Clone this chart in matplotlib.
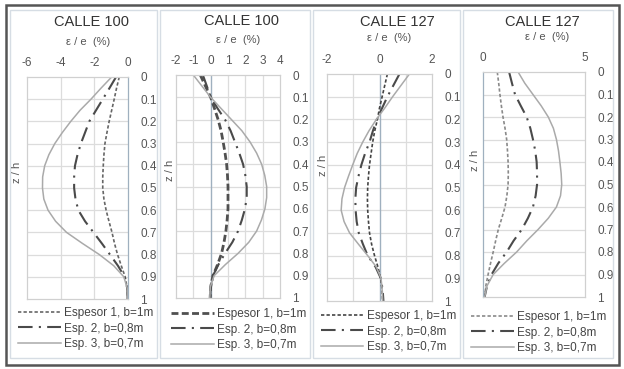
import matplotlib
matplotlib.use("Agg")
import matplotlib.pyplot as plt
from matplotlib.patches import Rectangle

plt.rcParams['font.family'] = ['Liberation Sans', 'DejaVu Sans']

W, H = 624, 369

z = [0, 0.05, 0.1, 0.15, 0.2, 0.25, 0.3, 0.35, 0.4, 0.45, 0.5,
     0.55, 0.6, 0.65, 0.7, 0.75, 0.8, 0.85, 0.9, 0.95, 1]

titles = ["CALLE 100", "CALLE 100", "CALLE 127", "CALLE 127"]
labels = ["Espesor 1, b=1m", "Esp. 2, b=0,8m", "Esp. 3, b=0,7m"]

# panel 1 - CALLE 100
c100a_e1 = [-0.52, -0.68, -0.82, -0.97, -1.12, -1.25, -1.37, -1.43, -1.47, -1.5, -1.5,
            -1.43, -1.3, -1.13, -0.95, -0.8, -0.62, -0.4, -0.17, -0.05, -0.02]
c100a_e2 = [-0.71, -1.1, -1.5, -1.9, -2.3, -2.55, -2.8, -3.0, -3.15, -3.2, -3.2,
            -3.12, -2.95, -2.55, -2.05, -1.55, -1.07, -0.6, -0.2, -0.05, -0.02]
c100a_e3 = [-0.97, -1.6, -2.2, -2.85, -3.4, -3.9, -4.35, -4.7, -4.95, -5.07, -5.08,
            -5.0, -4.75, -4.3, -3.65, -2.7, -1.7, -0.85, -0.25, -0.05, -0.02]

# panel 2 - CALLE 100
c100b_e1 = [-0.6, -0.3, 0.0, 0.22, 0.43, 0.6, 0.72, 0.83, 0.92, 0.97, 1.0,
            1.0, 1.0, 0.95, 0.88, 0.77, 0.63, 0.4, 0.13, 0.0, -0.03]
c100b_e2 = [-0.45, -0.22, 0.0, 0.4, 0.83, 1.15, 1.4, 1.65, 1.87, 2.0, 2.08,
            2.08, 1.98, 1.8, 1.58, 1.25, 0.83, 0.45, 0.13, 0.0, -0.03]
c100b_e3 = [-1.0, -0.5, 0.0, 0.6, 1.2, 1.8, 2.27, 2.65, 2.94, 3.12, 3.23,
            3.23, 3.13, 2.93, 2.65, 2.2, 1.58, 0.85, 0.2, -0.02, -0.05]

# panel 3 - CALLE 127
c127a_e1 = [0.3, 0.2, 0.1, 0.0, -0.08, -0.18, -0.26, -0.32, -0.38, -0.42, -0.45,
            -0.46, -0.45, -0.42, -0.38, -0.3, -0.19, -0.06, 0.04, 0.1, 0.12]
c127a_e2 = [0.76, 0.53, 0.3, 0.1, -0.1, -0.25, -0.38, -0.55, -0.69, -0.8, -0.89,
            -0.92, -0.91, -0.87, -0.79, -0.63, -0.45, -0.15, 0.05, 0.12, 0.15]
c127a_e3 = [1.14, 0.82, 0.5, 0.2, -0.12, -0.4, -0.64, -0.85, -1.02, -1.18, -1.33,
            -1.43, -1.46, -1.35, -1.14, -0.8, -0.45, -0.12, 0.06, 0.1, 0.12]

# panel 4 - CALLE 127
c127b_e1 = [0.7, 0.77, 0.83, 0.9, 0.98, 1.08, 1.16, 1.2, 1.23, 1.24, 1.23,
            1.17, 1.08, 0.92, 0.75, 0.62, 0.5, 0.37, 0.25, 0.14, 0.08]
c127b_e2 = [1.28, 1.42, 1.57, 1.85, 2.14, 2.32, 2.45, 2.56, 2.63, 2.65, 2.65,
            2.58, 2.45, 2.2, 1.9, 1.5, 1.16, 0.75, 0.42, 0.2, 0.08]
c127b_e3 = [1.72, 2.05, 2.45, 2.85, 3.2, 3.45, 3.6, 3.7, 3.77, 3.83, 3.86,
            3.8, 3.6, 3.2, 2.7, 2.15, 1.65, 1.05, 0.5, 0.2, 0.08]

series = [(c100a_e1, c100a_e2, c100a_e3), (c100b_e1, c100b_e2, c100b_e3),
          (c127a_e1, c127a_e2, c127a_e3), (c127b_e1, c127b_e2, c127b_e3)]
xlims = [(-6, 0), (-2, 4), (-2, 2), (0, 5)]
xticks = [[-6, -4, -2, 0], [-2, -1, 0, 1, 2, 3, 4], [-2, 0, 2], [0, 5]]
xgrid = [[-4, -2], [-1, 1, 2, 3], [-1, 1], []]

# pixel layout: plot boxes (left, top, right, bottom)
boxes = [(27, 77, 128, 299), (176, 75, 280, 298), (327, 74, 432, 301), (483, 72, 585, 297)]
title_pos = [(91, 22), (241, 21), (397, 22), (542, 22)]
xlab_pos = [(88, 42), (238, 40), (389, 38), (547, 37)]
ylab_pos = [(17, 172), (170, 170), (323, 165), (475, 160)]
leg_pos = [(18, 307), (171, 308), (321, 310), (471, 311)]
panel_rects = [(10, 10, 157, 358), (160, 10, 310, 358), (313, 10, 460, 358), (463, 10, 613, 358)]

e1_styles = [dict(color='#666666', lw=1.2, dashes=(2, 1.3)),
             dict(color='#505050', lw=2.0, dashes=(2.5, 1.2)),
             dict(color='#444444', lw=1.2, dashes=(2, 1.3)),
             dict(color='#8a8a8a', lw=1.2, dashes=(2, 1.3))]
e2_style = dict(color='#4a4a4a', lw=1.5, dashes=(7, 3, 1, 3))
e3_style = dict(color='#aaaaaa', lw=1.1)

fig = plt.figure(figsize=(W / 100, H / 100), dpi=100)


def fx(px):
    return px / W


def fy(py):
    return 1 - py / H


# outer frame and panel frames
fig.add_artist(Rectangle((fx(6), fy(365)), fx(613), 360 / H, transform=fig.transFigure,
                         fill=False, ec='#555555', lw=1.8))
for (l, t, r, b) in panel_rects:
    fig.add_artist(Rectangle((fx(l), fy(b)), (r - l) / W, (b - t) / H, transform=fig.transFigure,
                             fill=False, ec='#d6dde4', lw=1.0))

for i in range(4):
    l, t, r, b = boxes[i]
    ax = fig.add_axes([fx(l), fy(b), (r - l) / W, (b - t) / H])
    e1, e2, e3 = series[i]

    for g in [0.1 * k for k in range(1, 10)]:
        ax.axhline(g, color='#dcdcdc', lw=0.9, zorder=0)
    for g in xgrid[i]:
        ax.axvline(g, color='#dcdcdc', lw=0.9, zorder=0)
    if xlims[i][0] < 0 < xlims[i][1]:
        ax.axvline(0, color='#9fb0bf', lw=1.0, zorder=1)

    h1, = ax.plot(e1, z, label=labels[0], **e1_styles[i])
    h2, = ax.plot(e2, z, label=labels[1], **e2_style)
    h3, = ax.plot(e3, z, label=labels[2], **e3_style)

    ax.set_xlim(*xlims[i])
    ax.set_ylim(1, 0)
    ax.set_xticks(xticks[i])
    ax.set_xticklabels([str(v) for v in xticks[i]])
    ax.set_yticks([0.1 * k for k in range(11)])
    ax.set_yticklabels(['0'] + ['0.%d' % k for k in range(1, 10)] + ['1'])
    ax.xaxis.tick_top()
    ax.yaxis.tick_right()
    ax.tick_params(axis='x', length=0, pad=6, labelsize=8.5, labelcolor='#555555')
    ax.tick_params(axis='y', length=0, pad=9, labelsize=8.5, labelcolor='#555555')
    for s in ax.spines.values():
        s.set_color('#d0d0d0')
        s.set_linewidth(0.9)
    if i == 0:
        ax.spines['right'].set_color('#9fb0bf')
    if i == 3:
        ax.spines['left'].set_color('#9fb0bf')

    fig.text(fx(title_pos[i][0]), fy(title_pos[i][1]), titles[i], ha='center', va='center',
             fontsize=10.5, color='#333333')
    fig.text(fx(xlab_pos[i][0]), fy(xlab_pos[i][1]), 'ε / e  (%)', ha='center', va='center',
             fontsize=8, color='#555555')
    fig.text(fx(ylab_pos[i][0]), fy(ylab_pos[i][1]), 'z / h', ha='center', va='center',
             rotation=90, fontsize=8, color='#555555')

    ax.legend(handles=[h1, h2, h3], loc='upper left',
              bbox_to_anchor=(fx(leg_pos[i][0]), fy(leg_pos[i][1])), bbox_transform=fig.transFigure,
              frameon=False, fontsize=8.5, handlelength=3.6, handletextpad=0.3,
              labelspacing=0.3, borderpad=0, borderaxespad=0, labelcolor='#444444')

fig.savefig("out.png", dpi=100)
